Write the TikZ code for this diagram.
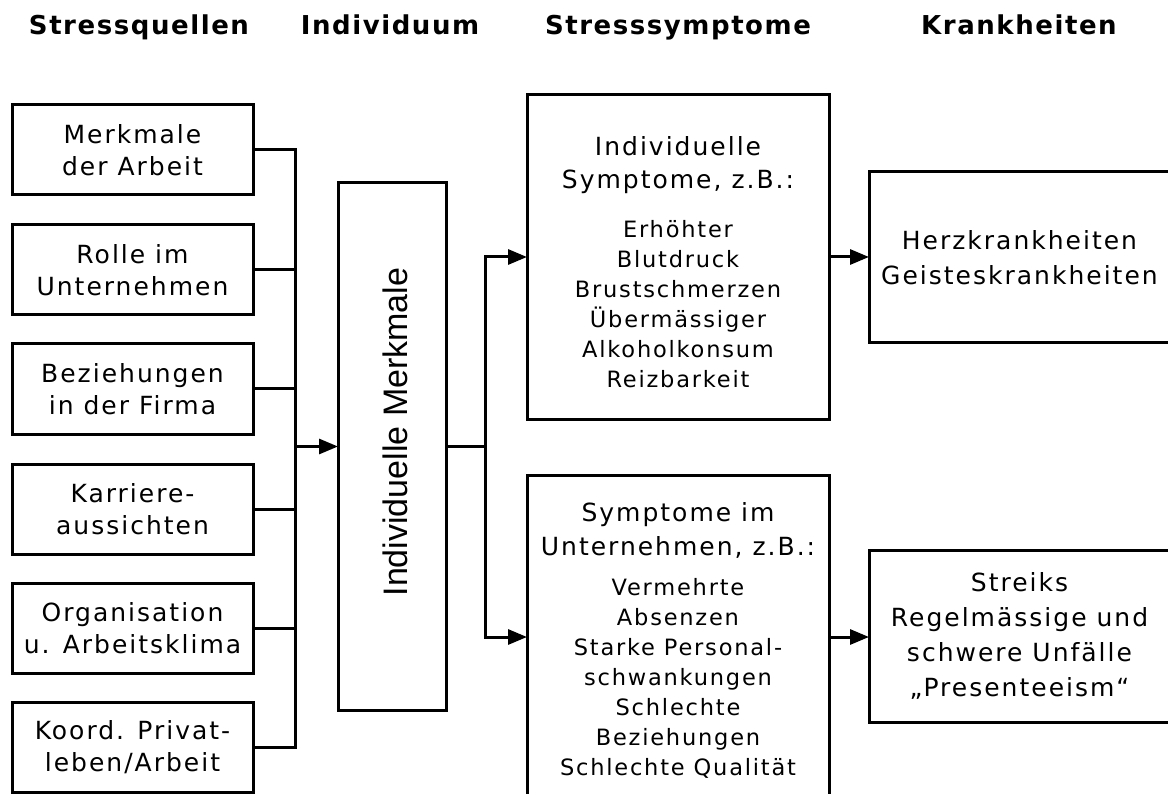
\documentclass[tikz,border=0pt]{standalone}
\usepackage{fontspec}
\usetikzlibrary{arrows.meta}
\newfontfamily\boxf[LetterSpace=8]{DejaVu Sans}
\newfontfamily\hdrf[LetterSpace=6]{DejaVu Sans}
\newfontfamily\arialf{Liberation Sans}
\newcommand\titlefs{\fontsize{25}{33}\selectfont}
\newcommand\listfs{\fontsize{22.5}{30}\selectfont}
\begin{document}
\begin{tikzpicture}[x=1pt,y=-1pt,
  every node/.style={inner sep=0pt, outer sep=0pt},
  ln/.style={line width=3pt},
  arr/.style={line width=3pt,-{Triangle[length=19pt,width=15pt]}},
  hdr/.style={anchor=base, font=\hdrf\bfseries\fontsize{26}{30}\selectfont},
  srcbox/.style={draw,line width=3pt,minimum width=241pt,minimum height=90pt,align=center,font=\boxf\fontsize{25}{32}\selectfont},
  symbox/.style={draw,line width=3pt,minimum width=302pt,minimum height=324pt,align=center,font=\boxf\listfs},
  krbox/.style={draw,line width=3pt,minimum width=301pt,align=center,font=\boxf\fontsize{25}{35}\selectfont},
  midbox/.style={draw,line width=3pt,minimum width=108pt,minimum height=527pt}
]
\useasboundingbox (0,0) rectangle (1168,794);
\clip (0,0) rectangle (1168,794);

% headers
\node[hdr] (h1) at (139,35) {Stressquellen};
\node[hdr] (h2) at (390,35) {Individuum};
\node[hdr] (h3) at (678,35) {Stresssymptome};
\node[hdr] (h4) at (1019,35) {Krankheiten};

% sources
\node[srcbox] (s1) at (132.5,150) {Merkmale\\der Arbeit};
\node[srcbox] (s2) at (132.5,270) {Rolle im\\Unternehmen};
\node[srcbox] (s3) at (132.5,389) {Beziehungen\\in der Firma};
\node[srcbox] (s4) at (132.5,509) {Karriere-\\aussichten};
\node[srcbox] (s5) at (132.5,628) {Organisation\\u. Arbeitsklima};
\node[srcbox] (s6) at (132.5,747) {Koord. Privat-\\leben/Arbeit};

% individual
\node[midbox] (mid) at (392,446.5) {};
\node[rotate=90, font=\arialf\fontsize{34}{40}\selectfont] (midtxt) at (395,432) {Individuelle Merkmale};

% symptoms
\node[symbox] (sym1) at (678,257) {\titlefs\rule{0pt}{29pt}Individuelle\\[3pt]\titlefs Symptome, z.B.:\\[19pt]Erhöhter\\Blutdruck\\Brustschmerzen\\Übermässiger\\Alkoholkonsum\\Reizbarkeit};
\node[symbox] (sym2) at (678,637) {\titlefs\rule{0pt}{26pt}Symptome im\\[4pt]\titlefs Unternehmen, z.B.:\\[10pt]Vermehrte\\Absenzen\\Starke Personal-\\schwankungen\\Schlechte\\Beziehungen\\Schlechte Qualität};

% diseases
\node[krbox, minimum height=171pt] (k1) at (1019.5,257.5) {Herzkrankheiten\\Geisteskrankheiten};
\node[krbox, minimum height=172pt] (k2) at (1019.5,636) {Streiks\\Regelmässige und\\schwere Unfälle\\„Presenteeism“};

% bus on the left
\coordinate (busx) at (295,0);
\draw[ln] (s1.east) -- (s1.east -| busx) -- (s6.east -| busx) -- (s6.east);
\foreach \n in {s2,s3,s4,s5} \draw[ln] (\n.east) -- (\n.east -| busx);
\draw[arr] (mid.west -| busx) -- (mid.west);

% branch
\coordinate (brx) at (485,0);
\draw[ln] (mid.east) -- (mid.east -| brx);
\draw[arr] (mid.east -| brx) |- (sym1.west);
\draw[arr] (mid.east -| brx) |- (sym2.west);

% to diseases
\draw[arr] (sym1.east) -- (sym1.east -| k1.west);
\draw[arr] (sym2.east) -- (sym2.east -| k2.west);
\end{tikzpicture}
\end{document}
